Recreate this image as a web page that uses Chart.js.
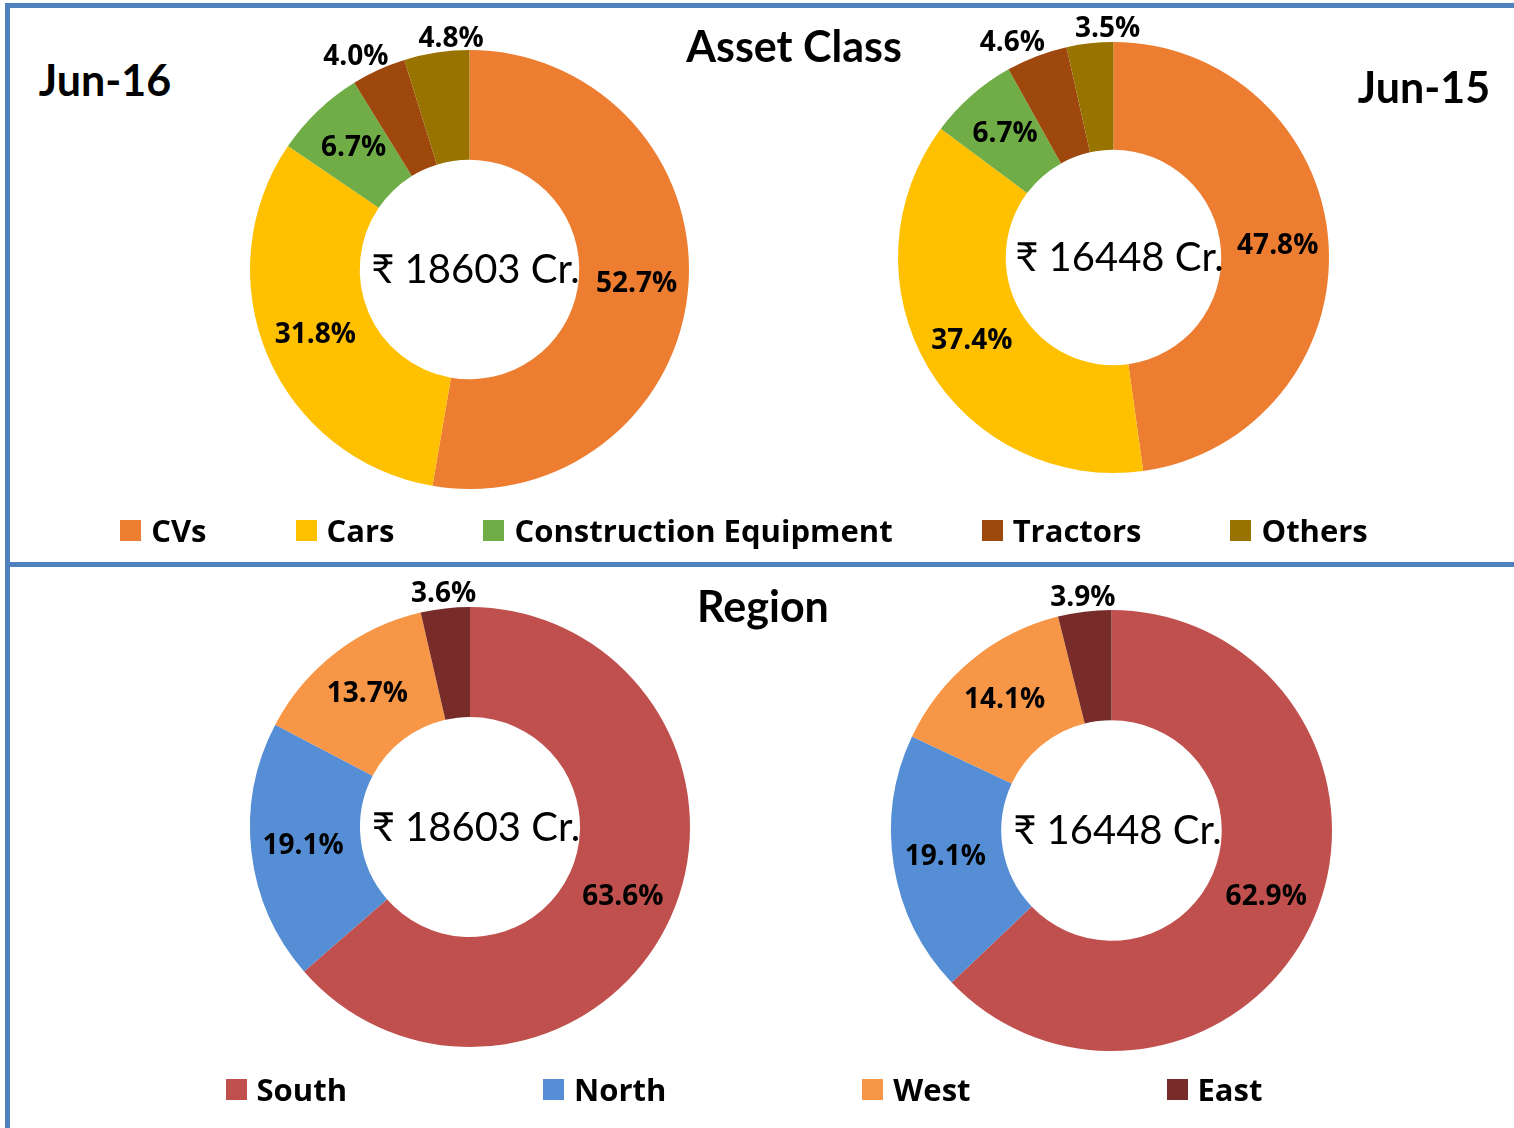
<!DOCTYPE html>
<html>
<head>
<meta charset="utf-8">
<script src="https://cdn.jsdelivr.net/npm/chart.js@4/dist/chart.umd.min.js"></script>
<style>
  body { margin: 0; background: #fff; width: 1514px; height: 1128px; position: relative; overflow: hidden;
         font-family: Lato, "Noto Sans", sans-serif; color: #000; }
  .line { position: absolute; background: #4F81BD; }
  .donut { position: absolute; }
  .title { position: absolute; font-weight: bold; line-height: 1; white-space: nowrap; transform: translate(-50%, -50%); }
  .legend { position: absolute; left: 0; width: 1488px; display: flex; justify-content: center;
            font-family: "Open Sans", sans-serif; font-weight: bold; font-size: 31px; line-height: 1; }
  .legend span.item { display: flex; align-items: center; white-space: nowrap; }
  .legend span.box { display: inline-block; width: 21px; height: 21px; margin-right: 10px; }
</style>
</head>
<body>

<!-- cadres -->
<div class="line" style="left:5px;top:3px;width:1509px;height:5px"></div>
<div class="line" style="left:5px;top:3px;width:5px;height:1125px"></div>
<div class="line" style="left:5px;top:562px;width:1509px;height:5px"></div>

<div class="donut" id="wrapAsset16"><canvas id="asset16"></canvas></div>
<div class="donut" id="wrapAsset15"><canvas id="asset15"></canvas></div>
<div class="donut" id="wrapRegion16"><canvas id="region16"></canvas></div>
<div class="donut" id="wrapRegion15"><canvas id="region15"></canvas></div>

<div class="title" style="left:794px;top:45px;font-size:43px">Asset Class</div>
<div class="title" style="left:105px;top:79px;font-size:43px">Jun-16</div>
<div class="title" style="left:1424px;top:86px;font-size:43px">Jun-15</div>
<div class="title" style="left:763px;top:605px;font-size:43px">Region</div>

<div class="legend" id="legendAsset" style="top:515px;gap:89px"></div>
<div class="legend" id="legendRegion" style="top:1074px;gap:196px"></div>

<script>
// ===== DONNÉES =====
var assetCategories = ['CVs', 'Cars', 'Construction Equipment', 'Tractors', 'Others'];
var assetJun16 = [52.7, 31.8, 6.7, 4.0, 4.8];
var assetJun15 = [47.8, 37.4, 6.7, 4.6, 3.5];
var assetColors = ['#ED7D31', '#FFC000', '#70AD47', '#9E480E', '#997300'];

var regionCategories = ['South', 'North', 'West', 'East'];
var regionJun16 = [63.6, 19.1, 13.7, 3.6];
var regionJun15 = [62.9, 19.1, 14.1, 3.9];
var regionColors = ['#C0504D', '#558ED5', '#F79646', '#772C2A'];

var totalJun16 = '₹ 18603 Cr.';
var totalJun15 = '₹ 16448 Cr.';

// ===== PLUGIN : étiquettes des parts + total au centre =====
var sliceLabels = {
    id: 'sliceLabels',
    afterDatasetsDraw: function (chart) {
        var ctx = chart.ctx;
        var meta = chart.getDatasetMeta(0);
        var values = chart.data.datasets[0].data;
        ctx.save();
        ctx.fillStyle = '#000';
        ctx.textAlign = 'center';
        ctx.textBaseline = 'middle';
        ctx.font = 'bold 28px "Open Sans"';

        var outside = [];
        meta.data.forEach(function (arc, i) {
            var p = arc.getProps(['x', 'y', 'startAngle', 'endAngle', 'innerRadius', 'outerRadius'], true);
            var mid = (p.startAngle + p.endAngle) / 2;
            var txt = values[i].toFixed(1) + '%';
            if (values[i] > 5) {
                // dans l'anneau
                var r = (p.innerRadius + p.outerRadius) / 2 + 3;
                ctx.fillText(txt, p.x + r * Math.cos(mid), p.y + r * Math.sin(mid));
            } else {
                // petite part : étiquette à l'extérieur
                var ro = p.outerRadius + 14;
                outside.push({ txt: txt, x: p.x + ro * Math.cos(mid), y: p.y + ro * Math.sin(mid),
                               w: ctx.measureText(txt).width });
            }
        });

        // on écarte les étiquettes extérieures qui se chevauchent
        outside.sort(function (a, b) { return a.x - b.x; });
        for (var k = 0; k < outside.length - 1; k++) {
            var a = outside[k], b = outside[k + 1];
            var need = (a.w + b.w) / 2 + 30;
            if (b.x - a.x < need && Math.abs(b.y - a.y) < 30) {
                var shift = (need - (b.x - a.x)) / 2;
                a.x -= shift;
                b.x += shift;
            }
        }
        outside.forEach(function (o) { ctx.fillText(o.txt, o.x, o.y); });

        // total au centre
        var c = meta.data[0];
        ctx.font = '40px Lato, "Noto Sans"';
        ctx.fillText(chart.options.plugins.sliceLabels.centre, c.x + 6, c.y + 1);
        ctx.restore();
    }
};

// ===== CRÉATION D'UN ANNEAU =====
function makeDonut(id, cx, cy, radius, values, labels, colors, centre) {
    var pad = 50;
    var size = 2 * (radius + pad);
    var wrap = document.getElementById('wrap' + id.charAt(0).toUpperCase() + id.slice(1));
    wrap.style.left = (cx - radius - pad) + 'px';
    wrap.style.top = (cy - radius - pad) + 'px';
    wrap.style.width = size + 'px';
    wrap.style.height = size + 'px';

    new Chart(document.getElementById(id), {
        type: 'doughnut',
        data: {
            labels: labels,
            datasets: [{
                data: values,
                backgroundColor: colors,
                borderWidth: 0
            }]
        },
        options: {
            responsive: true,
            maintainAspectRatio: false,
            animation: false,
            cutout: '50%',
            layout: { padding: pad },
            plugins: {
                legend: { display: false },
                tooltip: { enabled: false },
                sliceLabels: { centre: centre }
            }
        },
        plugins: [sliceLabels]
    });
}

// ===== LÉGENDES HTML =====
function makeLegend(id, labels, colors) {
    var el = document.getElementById(id);
    labels.forEach(function (lab, i) {
        var item = document.createElement('span');
        item.className = 'item';
        var box = document.createElement('span');
        box.className = 'box';
        box.style.background = colors[i];
        item.appendChild(box);
        item.appendChild(document.createTextNode(lab));
        el.appendChild(item);
    });
}

makeDonut('asset16', 469, 269.5, 219.5, assetJun16, assetCategories, assetColors, totalJun16);
makeDonut('asset15', 1113, 257.5, 215.5, assetJun15, assetCategories, assetColors, totalJun15);
makeDonut('region16', 470, 827, 220, regionJun16, regionCategories, regionColors, totalJun16);
makeDonut('region15', 1111, 830.5, 220.5, regionJun15, regionCategories, regionColors, totalJun15);

makeLegend('legendAsset', assetCategories, assetColors);
makeLegend('legendRegion', regionCategories, regionColors);
</script>
</body>
</html>
